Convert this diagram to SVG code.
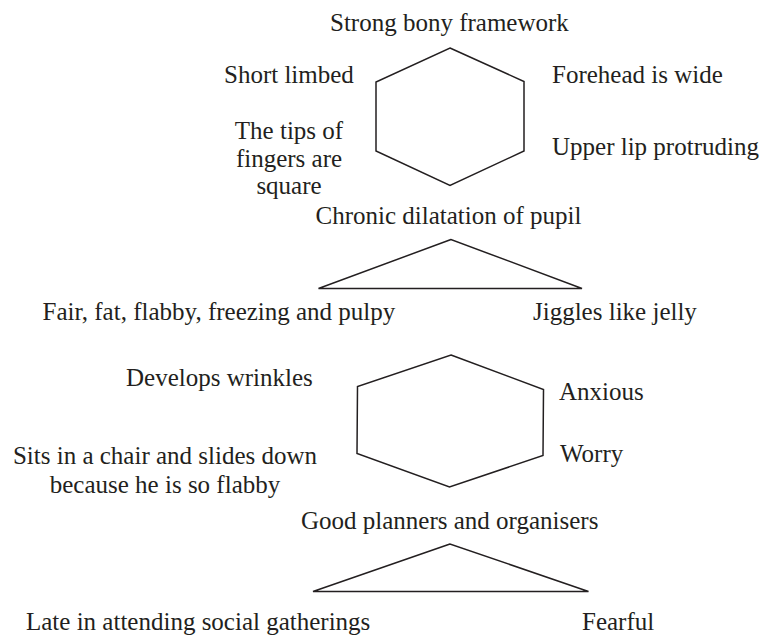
<svg xmlns="http://www.w3.org/2000/svg" width="763" height="637" viewBox="0 0 763 637">
<style>
.shape{fill:#ffffff;stroke:#231f20;stroke-width:1.5;stroke-linejoin:miter}
.t{font-family:"Liberation Serif","Times New Roman",serif;font-size:25px;fill:#231f20}
.c{text-anchor:middle}
</style>
<rect width="763" height="637" fill="#ffffff"/>
<g id="connectors"></g>
<g id="hexagon1"><polygon class="shape" points="450,48 524,81.5 524,151 450,185.5 376,151 376,82"/></g>
<g id="triangle1"><polygon class="shape" points="451,239.5 318.5,288.5 582,288.5"/></g>
<g id="hexagon2"><polygon class="shape" points="451,355 543.5,389.5 543,455.5 449.5,487 357,453.5 357.5,386.5"/></g>
<g id="triangle2"><polygon class="shape" points="450,544 313,591.5 588.5,591.5"/></g>
<g id="label-strong"><text class="t" x="330" y="31">Strong bony framework</text></g>
<g id="label-short"><text class="t" x="224" y="83">Short limbed</text></g>
<g id="label-tips"><text class="t c" x="289" y="139">The tips of</text><text class="t c" x="289" y="167">fingers are</text><text class="t c" x="289" y="194">square</text></g>
<g id="label-forehead"><text class="t" x="552" y="83">Forehead is wide</text></g>
<g id="label-upperlip"><text class="t" x="552" y="155">Upper lip protruding</text></g>
<g id="label-chronic"><text class="t" x="315.5" y="224">Chronic dilatation of pupil</text></g>
<g id="label-fair"><text class="t" x="42.5" y="320">Fair, fat, flabby, freezing and pulpy</text></g>
<g id="label-jiggles"><text class="t" x="533" y="320">Jiggles like jelly</text></g>
<g id="label-wrinkles"><text class="t" x="126" y="386">Develops wrinkles</text></g>
<g id="label-anxious"><text class="t" x="559" y="400">Anxious</text></g>
<g id="label-worry"><text class="t" x="560" y="462">Worry</text></g>
<g id="label-sits"><text class="t c" x="165" y="464">Sits in a chair and slides down</text><text class="t c" x="165" y="493">because he is so flabby</text></g>
<g id="label-planners"><text class="t" x="301" y="529">Good planners and organisers</text></g>
<g id="label-late"><text class="t" x="26" y="630">Late in attending social gatherings</text></g>
<g id="label-fearful"><text class="t" x="582" y="630">Fearful</text></g>
</svg>
